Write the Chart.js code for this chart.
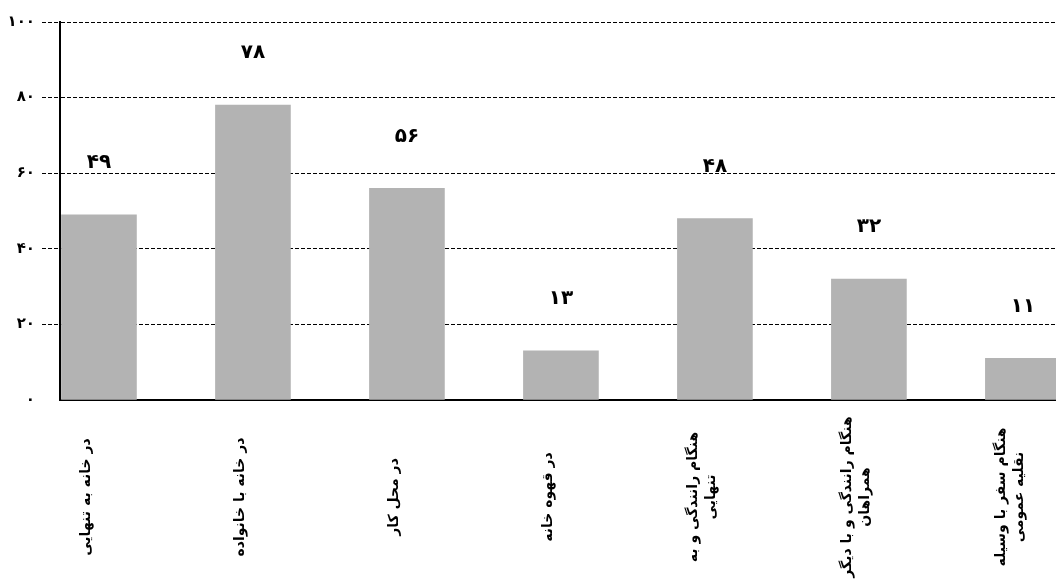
<!DOCTYPE html>
<html>
<head>
<meta charset="utf-8">
<script src="https://cdn.jsdelivr.net/npm/chart.js@4.4.1/dist/chart.umd.min.js"></script>
<style>
  html, body { margin: 0; padding: 0; background: #fff; overflow: hidden; }
  #wrap { width: 1056px; height: 581px; }
</style>
</head>
<body>
<div id="wrap"><canvas id="chart"></canvas></div>
<script>
// categories (multi-line labels as arrays)
const categories = [
    ['در خانه به تنهایی'],
    ['در خانه با خانواده'],
    ['در محل کار'],
    ['در قهوه خانه'],
    ['هنگام رانندگی و به', 'تنهایی'],
    ['هنگام رانندگی و با دیگر', 'همراهان'],
    ['هنگام سفر با وسیله', 'نقلیه عمومی']
];
const values = [49, 78, 56, 13, 48, 32, 11];
const yTicks = [0, 20, 40, 60, 80, 100];

const FONT = '"DejaVu Sans", sans-serif';

function toFa(n) {
    return String(n).replace(/\d/g, d => '۰۱۲۳۴۵۶۷۸۹'[d]);
}

const points = values.map((v, i) => ({ x: i, y: v }));

// value labels above the bars
const valueLabels = {
    id: 'valueLabels',
    afterDatasetsDraw(chart) {
        const ctx = chart.ctx;
        const meta = chart.getDatasetMeta(0);
        ctx.save();
        ctx.font = 'bold 20px ' + FONT;
        ctx.fillStyle = '#000';
        ctx.textAlign = 'center';
        ctx.textBaseline = 'middle';
        meta.data.forEach((bar, i) => {
            ctx.fillText(toFa(values[i]), bar.x, bar.y - 52);
        });
        ctx.restore();
    }
};

// rotated category labels, centred vertically under the axis
const categoryLabels = {
    id: 'categoryLabels',
    afterDraw(chart) {
        const ctx = chart.ctx;
        const xs = chart.scales.x;
        const midY = chart.chartArea.bottom + 97;
        const lineH = 18;
        ctx.save();
        ctx.font = 'bold 14px ' + FONT;
        ctx.fillStyle = '#000';
        ctx.textAlign = 'center';
        ctx.textBaseline = 'middle';
        ctx.direction = 'rtl';
        categories.forEach((lines, i) => {
            const x = xs.getPixelForValue(i) - 13;
            ctx.save();
            ctx.translate(x, midY);
            ctx.rotate(-Math.PI / 2);
            lines.forEach((line, j) => {
                ctx.fillText(line, 0, (j - (lines.length - 1) / 2) * lineH);
            });
            ctx.restore();
        });
        ctx.restore();
    }
};

const ctx = document.getElementById('chart').getContext('2d');
new Chart(ctx, {
    type: 'bar',
    data: {
        datasets: [{
            data: points,
            backgroundColor: '#b3b3b3',
            borderWidth: 0,
            barThickness: 75
        }]
    },
    options: {
        responsive: true,
        maintainAspectRatio: false,
        animation: false,
        layout: { padding: { top: 22, right: 0, left: 0, bottom: 0 } },
        plugins: {
            legend: { display: false },
            tooltip: { enabled: false }
        },
        scales: {
            x: {
                type: 'linear',
                min: -0.253,
                max: 6.215,
                offset: false,
                grid: { display: false },
                border: { color: '#000', width: 2 },
                ticks: { display: false },
                afterFit(scale) { scale.height = 181; }
            },
            y: {
                min: 0,
                max: 100,
                afterBuildTicks(scale) {
                    scale.ticks = yTicks.map(v => ({ value: v }));
                },
                grid: {
                    color: c => c.tick.value === 0 ? 'rgba(0,0,0,0)' : '#000',
                    lineWidth: 1,
                    tickLength: 18,
                    tickBorderDash: [4, 2]
                },
                border: { color: '#000', width: 2, dash: [4, 2] },
                ticks: {
                    callback: v => toFa(v),
                    color: '#000',
                    padding: 7,
                    font: { family: FONT, size: 15, weight: 'bold' }
                },
                afterFit(scale) { scale.width = 60; }
            }
        }
    },
    plugins: [valueLabels, categoryLabels]
});
</script>
</body>
</html>
